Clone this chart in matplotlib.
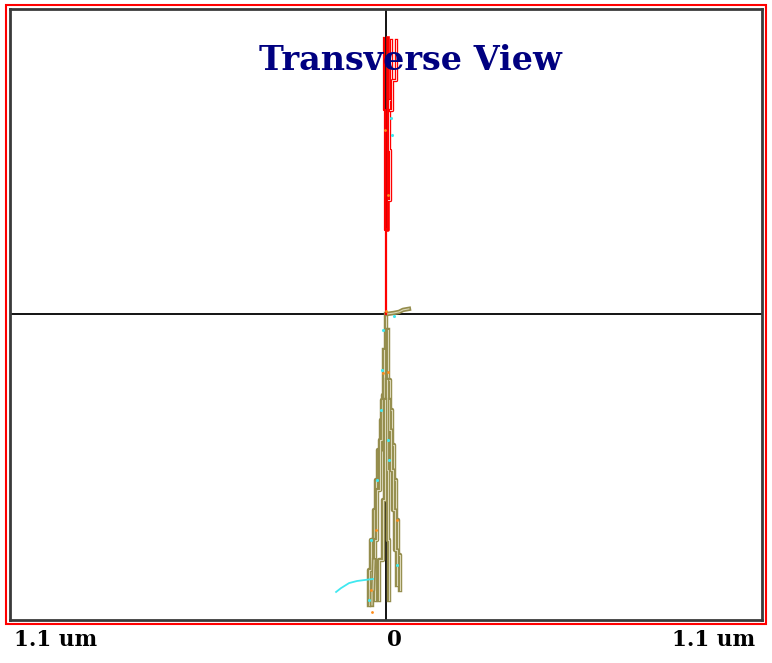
# Transverse view of particle tracks (positions in nm)
import matplotlib
matplotlib.use("Agg")
import matplotlib.pyplot as plt
from matplotlib.patches import Rectangle

# ---------------- DATA ----------------
# red tracks above the origin
red_main_x = [0, 0, -3, -3, -6, -6]
red_main_y = [0, 246, 246, 597, 597, 808]
red_band_x = [3, 3, 6, 6]
red_band_y = [246, 246, 246, 808]
red_side1_x = [6, 12, 12, 9, 9, 15, 15]
red_side1_y = [334, 334, 480, 480, 627, 627, 802]
red_side2_x = [12, 18, 18, 29, 29]
red_side2_y = [597, 597, 685, 685, 802]

# olive tracks below the origin
olive_tracks = [
    ([0, 0, -3, -3, -9, -9, -15, -15, -23, -23, -29, -29, -35, -35, -44, -44, -50, -50],
     [0, -135, -135, -237, -237, -310, -310, -398, -398, -486, -486, -573, -573, -661, -661, -749, -749, -851]),
    ([6, 6, 12, 12, 18, 18, 23, 23, 29, 29, 35, 35, 41, 41],
     [-47, -193, -193, -281, -281, -383, -383, -486, -486, -603, -603, -705, -705, -808]),
    ([-6, -6, -12, -12, -18, -18, -26, -26, -32, -32],
     [-105, -252, -252, -369, -369, -515, -515, -661, -661, -837]),
    ([9, 9, 15, 15, 20, 20, 26, 26, 32, 32],
     [-252, -340, -340, -456, -456, -573, -573, -690, -690, -793]),
    ([3, 3, 6, 6, 9, 9],
     [-193, -456, -456, -661, -661, -837]),
    ([-3, -3, -9, -9, -20, -20],
     [-252, -544, -544, -720, -720, -837]),
    ([-35, -38, -41, -41],
     [-720, -808, -808, -851]),
    ([3, 23, 38, 50, 67],
     [0, 3, 6, 12, 15]),
]

# cyan curl near the bottom
cyan_x = [-146, -132, -108, -85, -62, -38]
cyan_y = [-813, -802, -787, -781, -778, -775]

# secondary hits
orange_x = [-3, 6, -9, 6, -29, 32, -44, -41, 0]
orange_y = [539, 349, -172, -169, -632, -603, -808, -873, 8]
cyan_dot_x = [15, 18, -9, -12, -15, 6, 9, -26, -44, 32, -50, 23]
cyan_dot_y = [574, 524, -47, -164, -281, -369, -427, -486, -661, -734, -837, -6]

x_min, x_max = -1100, 1100
y_min, y_max = -895, 892

# ---------------- PLOT ----------------
fig = plt.figure(figsize=(7.72, 6.63), dpi=100)
ax = fig.add_axes([10 / 772, 43 / 663, 752 / 772, 611 / 663])
ax.set_xlim(x_min, x_max)
ax.set_ylim(y_min, y_max)
ax.set_xticks([])
ax.set_yticks([])
for s in ax.spines.values():
    s.set_color("#3a3a3a")
    s.set_linewidth(2)

# crosshair
ax.axhline(0, color="black", lw=1.3, zorder=1)
ax.axvline(0, color="black", lw=1.3, zorder=1)

# red tracks
ax.plot(red_main_x, red_main_y, color="red", lw=1.6, zorder=3)
ax.plot(red_band_x, red_band_y, color="red", lw=2.6, zorder=3)
for xs, ys in [(red_side1_x, red_side1_y), (red_side2_x, red_side2_y)]:
    ax.plot(xs, ys, color="red", lw=2.4, zorder=3)
    ax.plot(xs, ys, color="#ffd0d0", lw=0.7, zorder=3)

# olive tracks (outlined look)
for xs, ys in olive_tracks:
    ax.plot(xs, ys, color="#948c4c", lw=3.2, zorder=2)
    ax.plot(xs, ys, color="#dcd8b8", lw=0.8, zorder=2)

ax.plot(cyan_x, cyan_y, color="#40e8f0", lw=1.3, zorder=4)
ax.scatter(orange_x, orange_y, s=4, color="#ff8c1a", zorder=5, linewidths=0)
ax.scatter(cyan_dot_x, cyan_dot_y, s=5, color="#40e8f0", zorder=5, linewidths=0)

# outer red frame
fig.patches.append(Rectangle((6 / 772, 39 / 663), 760 / 772, 619 / 663,
                             transform=fig.transFigure, fill=False,
                             edgecolor="red", lw=1.5))

fig.text(410 / 772, 1 - 60 / 663, "Transverse View", color="#000080",
         fontsize=24, fontweight="bold", family="DejaVu Serif",
         ha="center", va="center")
fig.text(14 / 772, 1 - 640 / 663, "1.1 um", fontsize=15.5, fontweight="bold",
         family="DejaVu Serif", ha="left", va="center")
fig.text(394 / 772, 1 - 640 / 663, "0", fontsize=15.5, fontweight="bold",
         family="DejaVu Serif", ha="center", va="center")
fig.text(755 / 772, 1 - 640 / 663, "1.1 um", fontsize=15.5, fontweight="bold",
         family="DejaVu Serif", ha="right", va="center")

fig.savefig("out.png", dpi=100)
